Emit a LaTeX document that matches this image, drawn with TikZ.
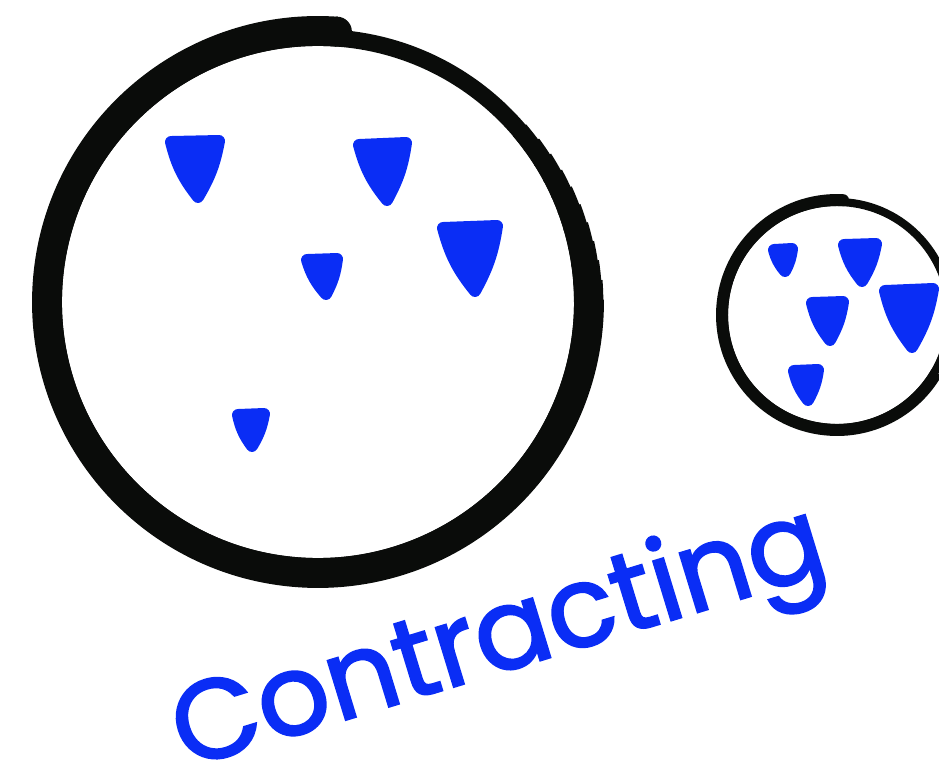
\documentclass[tikz,border=0pt]{standalone}
\usepackage{fontspec}
\usepackage{xcolor}
\usepackage{tikz}
\usetikzlibrary{calc, positioning}
\newfontfamily\handfont[FakeBold=2]{Poppins}
\definecolor{ink}{RGB}{10,12,10}
\definecolor{inkblue}{RGB}{10,45,245}

\begin{document}
\begin{tikzpicture}[
                  x = 0.01cm, y = 0.01cm,
                  ring/.style   = {draw=ink, line width=4.8pt},
                  rthick/.style = {draw=ink, line width=8.5pt},
                  sring/.style  = {draw=ink, line width=2.3pt},
                  sthick/.style = {draw=ink, line width=3.4pt},
                  blob/.style   = {fill=inkblue, draw=inkblue, line width=3.4pt, line join=round},
                  word/.style   = {text=inkblue, font=\handfont\fontsize{32}{38}\selectfont, inner sep=0pt}
            ]
            \useasboundingbox (0,0) rectangle (939,775);
            \clip (0,0) rectangle (939,775);

            \coordinate (bigc)   at (318,473);
            \coordinate (smallc) at (837,460);

            % grosse Zelle - Strich dick, oben rechts duenner
            \draw[ring] (bigc) circle[radius=264.5];
            \draw[rthick] ($(bigc)+(86:271)$) arc[start angle=86, end angle=360.5, radius=271];
            \fill[ink] ($(bigc)+(86:271)$) circle[radius=15];
            \foreach \a in {0,4,...,36}
                  \draw[draw=ink, line width={(30-13*(\a+2)/40)*0.2845pt}]
                        ($(bigc)+(\a:{256+(30-13*(\a+2)/40)/2})$)
                        arc[start angle=\a, end angle=\a+4.5, radius={256+(30-13*(\a+2)/40)/2}];

            % kleine Zelle
            \draw[sring] (smallc) circle[radius=113];
            \draw[sthick] ($(smallc)+(87:115)$) arc[start angle=87, end angle=330, radius=115];
            \fill[ink] ($(smallc)+(87:115)$) circle[radius=6];

            % Teilchen in der grossen Zelle
            \filldraw[blob] (171,633) -- (219,634) to[bend left=10] (198,578) to[bend left=12] cycle;
            \filldraw[blob] (359,630) -- (406,632) to[bend left=10] (387,575) to[bend left=12] cycle;
            \filldraw[blob] (443,547) -- (497,549) to[bend left=10] (475,484) to[bend left=12] cycle;
            \filldraw[blob] (307,515) -- (337,516) to[bend left=10] (326,481) to[bend left=12] cycle;
            \filldraw[blob] (238,360) -- (264,361) to[bend left=10] (252,329) to[bend left=12] cycle;

            % Teilchen in der kleinen Zelle
            \filldraw[blob] (774,525) -- (792,526) to[bend left=10] (785,504) to[bend left=12] cycle;
            \filldraw[blob] (844,530) -- (876,531) to[bend left=10] (862,494) to[bend left=12] cycle;
            \filldraw[blob] (812,472) -- (843,473) to[bend left=10] (830,435) to[bend left=12] cycle;
            \filldraw[blob] (885,484) -- (933,486) to[bend left=10] (912,428) to[bend left=12] cycle;
            \filldraw[blob] (794,404) -- (818,405) to[bend left=10] (808,375) to[bend left=12] cycle;

            \node[word, rotate=17, anchor=base west] (label) at (185,6) {Contracting};
      \end{tikzpicture}
\end{document}
